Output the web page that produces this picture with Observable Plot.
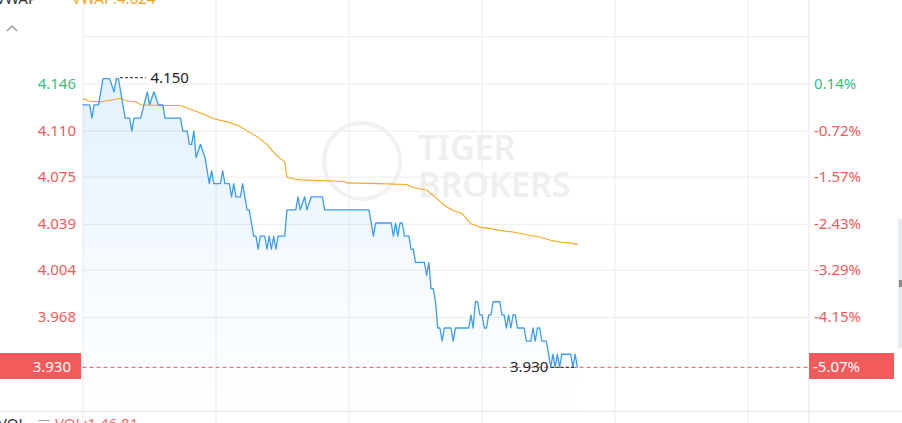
<!DOCTYPE html>
<html><head><meta charset="utf-8">
<script src="https://cdn.jsdelivr.net/npm/d3@7"></script>
<script src="https://cdn.jsdelivr.net/npm/@observablehq/plot@0.6"></script>
<style>
html,body{margin:0;padding:0;background:#fff;}
#wrap{position:relative;width:902px;height:423px;overflow:hidden;font-family:"Noto Sans",sans-serif;}
#wrap > svg{position:absolute;left:0;top:0;}
.ov{position:absolute;white-space:nowrap;line-height:1;}
</style></head><body><div id="wrap"></div>
<script>
// ---- data (minutes after the open, price) ----
const priceT = [0,3,4,5,7,8,9,12,14,15, 16,17,18,19,21,22,23,26,29,30, 32,34,36,37,44,45,47,48,49,50,
  51,53,55,57,58,59,62,63,64,66, 67,68,69,71,72,74,75,77,78,79, 80,82,83,84,85,86,87,88,91,92,
  96,97,98,100,101,103,108,109,129,131, 132,139,140,141,142,143,144,145,147,148,
  149,150,154,155,156,157,158,159,160,161, 162,163,166,167,168,174,175,176,177,178,
  179,180,181,182,183,184,185,188,189,190, 191,192,193,194,195,196,199,200,202,203,
  204,205,206,207,209,210,211,212,213,214, 215,216,220,221,222,223];
const priceP = [4.13,4.13,4.12,4.13,4.13,4.14,4.15,4.15,4.14,4.15,
  4.15,4.14,4.13,4.12,4.12,4.11,4.12,4.12,4.14,4.13,
  4.14,4.13,4.13,4.12,4.12,4.11,4.11,4.10,4.10,4.11,
  4.09,4.10,4.09,4.07,4.08,4.07,4.07,4.08,4.07,4.07,
  4.06,4.07,4.06,4.06,4.07,4.05,4.05,4.03,4.03,4.02,
  4.03,4.03,4.02,4.03,4.02,4.03,4.02,4.03,4.03,4.05,
  4.05,4.06,4.05,4.06,4.05,4.06,4.06,4.05,4.05,4.03,
  4.04,4.04,4.03,4.04,4.03,4.04,4.04,4.03,4.03,4.02,
  4.02,4.01,4.01,4.00,4.01,3.99,3.99,3.98,3.96,3.96,
  3.95,3.96,3.96,3.95,3.96,3.96,3.97,3.96,3.98,3.98,
  3.97,3.97,3.96,3.96,3.97,3.97,3.98,3.98,3.97,3.97,
  3.96,3.97,3.96,3.97,3.97,3.96,3.96,3.95,3.95,3.96,
  3.95,3.96,3.96,3.95,3.95,3.94,3.93,3.94,3.93,3.94,
  3.93,3.94,3.94,3.93,3.94,3.93];
const vwapT = [0,1,2,8,14,17,20,24,26,35,44,50,54,59,65,70,75,79,83,86,
  90,91,92,95,98,118,119,133,146,149,155,158,163,167,171,175,179,184,188,194,
  200,206,211,215,220,223];
const vwapP = [4.134,4.1348,4.133,4.1323,4.1342,4.1351,4.133,4.1322,4.1302,4.1296,
  4.1296,4.1258,4.1233,4.1195,4.1171,4.1144,4.1093,4.1053,4.0999,4.0938,
  4.0877,4.0864,4.075,4.0738,4.0729,4.0717,4.0706,4.07,4.0694,4.0671,
  4.0652,4.0611,4.0534,4.0496,4.0471,4.0395,4.0369,4.0357,4.0344,4.0331,
  4.0311,4.0293,4.0268,4.0255,4.0247,4.0237];
const leftTicks = [4.146,4.110,4.075,4.039,4.004,3.968];
const pctLabels = ["0.14%","-0.72%","-1.57%","-2.43%","-3.29%","-4.15%"];
const gridTicks = [4.182,4.146,4.110,4.075,4.039,4.004,3.968];
const hourTicks = [0,60,120,180,240,300];
const prevClose = 4.14;
const lastPrice = 3.93;
const lastPriceLabel = "3.930";
const lastPctLabel = "-5.07%";
const vwapLabel = "VWAP:4.024";
const volLabel = "VOL:1.46 81";
const xDomain = [0, 327.5];
const yDomain = [3.8872, 4.2096];
const volSplit = 3.8964;

// ---- build ----
const price = priceT.map((t,i)=>({t, p: priceP[i]}));
const vwap = vwapT.map((t,i)=>({t, p: vwapP[i]}));
const tickRows = leftTicks.map((v,i)=>({v, pct: pctLabels[i]}));
const W = 902, H = 423, ML = 82.5, MR = 93.5;
const pxPerMin = (W - ML - MR) / (xDomain[1] - xDomain[0]);
const maxP = d3.max(price, d=>d.p), minP = d3.min(price, d=>d.p);
const maxPt = price.filter(d=>d.p===maxP).at(-1);
const minPt = price.filter(d=>d.p===minP).at(-1);
const GREEN = "#35bf80", RED = "#ef5a5a";

const chart = Plot.plot({
  width: W, height: H,
  marginLeft: ML, marginRight: MR, marginTop: 0, marginBottom: 0,
  style: {background: "transparent", fontFamily: "Noto Sans, sans-serif", fontSize: "15px", overflow: "visible"},
  x: {domain: xDomain, axis: null},
  y: {domain: yDomain, axis: null},
  marks: [
    Plot.ruleY(gridTicks, {stroke: "#ececec", strokeWidth: 1}),
    Plot.ruleX(hourTicks, {stroke: "#ececec", strokeWidth: 1}),
    Plot.ruleX([xDomain[1]], {stroke: "#e4e4e4", strokeWidth: 1}),
    Plot.areaY(price, {x: "t", y1: volSplit, y2: "p", fill: "url(#fadeBlue)"}),
    Plot.lineY(vwap, {x: "t", y: "p", stroke: "#f5a623", strokeWidth: 1.1}),
    Plot.lineY(price, {x: "t", y: "p", stroke: "#3d9cf2", strokeWidth: 1.3}),
    Plot.ruleY([lastPrice], {stroke: RED, strokeWidth: 1, strokeDasharray: "4,3"}),
    // max annotation
    Plot.ruleY([maxPt], {y: "p", x1: d=>d.t + 2/pxPerMin, x2: d=>d.t + 28/pxPerMin, stroke: "#222", strokeDasharray: "3,2", dy: -1}),
    Plot.text([maxPt], {x: "t", y: "p", text: d=>d.p.toFixed(3), dx: 32, dy: -1, textAnchor: "start", fill: "#222", fontSize: 15}),
    // min annotation
    Plot.ruleY([minPt], {y: "p", x1: d=>d.t - 26/pxPerMin, x2: d=>d.t - 2/pxPerMin, stroke: "#222", strokeDasharray: "3,2"}),
    Plot.text([minPt], {x: "t", y: "p", text: d=>d.p.toFixed(3), dx: -29, textAnchor: "end", fill: "#222", fontSize: 15}),
    // axis labels
    Plot.text(tickRows, {y: "v", frameAnchor: "left", dx: -7, textAnchor: "end", text: d=>d.v.toFixed(3),
      fill: d=>d.v >= prevClose ? GREEN : RED, fontSize: 15}),
    Plot.text(tickRows, {y: "v", frameAnchor: "right", dx: 5, textAnchor: "start", text: "pct",
      fill: d=>d.v >= prevClose ? GREEN : RED, fontSize: 15})
  ]
});

const y = chart.scale("y");
const ns = "http://www.w3.org/2000/svg";
const defs = document.createElementNS(ns, "defs");
defs.innerHTML = `<linearGradient id="fadeBlue" gradientUnits="userSpaceOnUse" x1="0" y1="${y.apply(maxP)}" x2="0" y2="${y.apply(volSplit)}">
<stop offset="0" stop-color="#3aa0f0" stop-opacity="0.15"/><stop offset="0.6" stop-color="#3aa0f0" stop-opacity="0.045"/><stop offset="1" stop-color="#3aa0f0" stop-opacity="0.005"/></linearGradient>`;
chart.prepend(defs);

const wrap = document.getElementById("wrap");
function ov(html, css){ const d=document.createElement("div"); d.className="ov"; d.innerHTML=html; d.style.cssText+=css; wrap.appendChild(d); return d; }

// watermark (behind chart)
ov("", "left:322px;top:121px;width:72px;height:72px;border:4px solid #f1f1f1;border-radius:50%;");
ov("TIGER<br>BROKERS", "left:418px;top:129px;font-size:34px;line-height:37px;font-weight:600;color:#efefef;");
wrap.appendChild(chart);

const yLast = y.apply(lastPrice);
const ySplit = y.apply(volSplit);
ov("", `left:0;top:${ySplit}px;width:902px;height:1px;background:#e6e6e6;`);
ov(lastPriceLabel, `left:0;top:${yLast-14}px;width:71px;height:26px;line-height:26px;padding-right:10px;text-align:right;background:#f25b5b;color:#fff;font-size:15px;`);
ov(lastPctLabel, `left:808.5px;top:${yLast-14}px;width:81px;height:26px;line-height:26px;padding-left:4.5px;background:#f25b5b;color:#fff;font-size:15px;`);
// header / footer legends
ov("VWAP", "left:-4px;top:-9px;font-size:15px;color:#333;");
ov(vwapLabel, "left:72px;top:-9px;font-size:15px;color:#f5a623;");
ov('<svg width="12" height="8"><polyline points="1,7 6,2 11,7" fill="none" stroke="#999" stroke-width="1.5"/></svg>', "left:6px;top:18px;");
ov("VOL", "left:-2px;top:415.5px;font-size:15px;color:#333;");
ov("—", "left:38px;top:414px;font-size:12px;color:#999;");
ov(volLabel, "left:55px;top:415.5px;font-size:15px;color:#f36b6b;");
// side scrollbar
ov("", "left:898px;top:219px;width:4px;height:129px;background:#e7eaef;");
ov("", "left:899px;top:280px;width:3px;height:7px;background:#8a8a8a;");
</script></body></html>
